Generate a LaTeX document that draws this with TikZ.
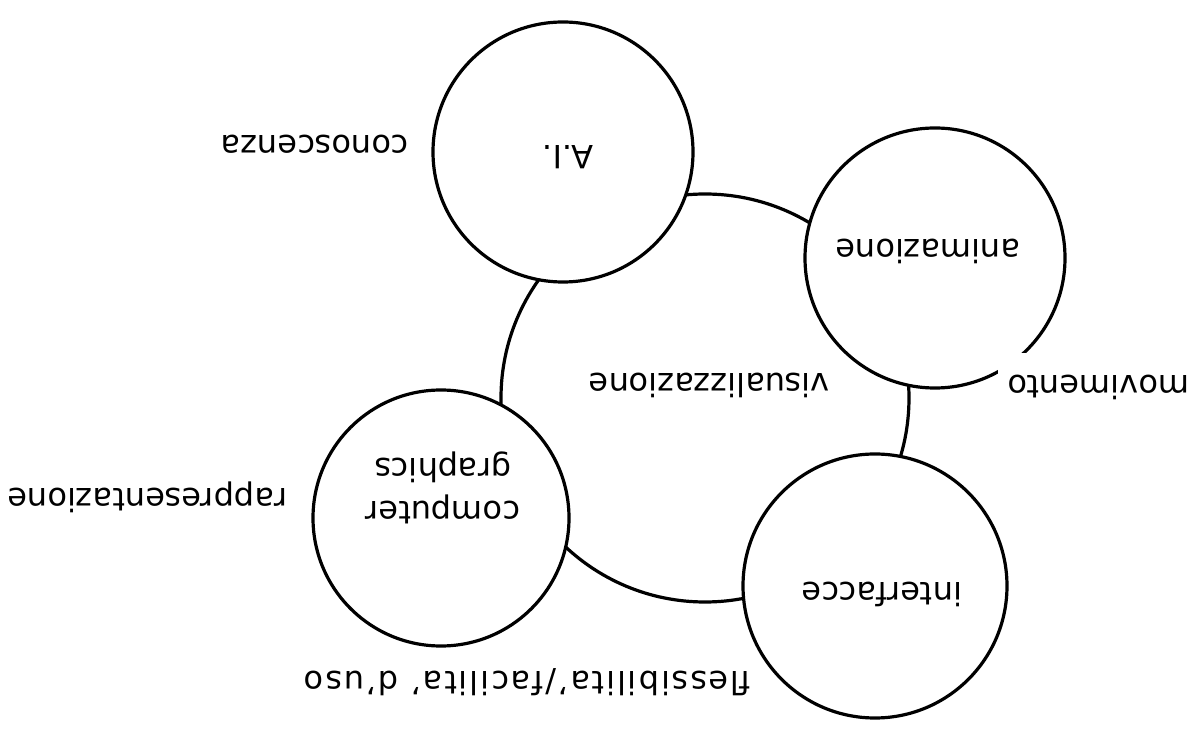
\documentclass[tikz,border=0pt]{standalone}
\usepackage{fontspec}
\setmainfont{DejaVu Sans}
\begin{document}
\begin{tikzpicture}[x=0.5pt,y=-0.5pt,
  bubble/.style={circle, draw, line width=1.6pt, fill=white, inner sep=0pt},
  lbl/.style={rotate=180, font=\fontsize{16}{21.5}\selectfont, text height=12pt, text depth=4pt, inner sep=2pt, align=center},
]
\useasboundingbox (0,0) rectangle (1200,731);
% central circle
\node[bubble, fill=none, minimum size=204pt] (vis) at (705,398) {};
\node[lbl] (vislbl) at (709.5,382) {visualizzazione};
% satellite circles
\node[bubble, minimum size=130pt] (ai) at (563,152) {};
\node[bubble, minimum size=130pt] (anim) at (935,258) {};
\node[bubble, minimum size=128pt] (cg) at (441,518) {};
\node[bubble, minimum size=132pt] (intf) at (875,586) {};
% texts inside circles
\node[lbl] (ailbl) at (568,154) {A.I.};
\node[lbl] (animlbl) at (928,247.5) {animazione};
\node[lbl] (intflbl) at (882,590.5) {interfacce};
\node[lbl, text height=, text depth=] (cglbl) at (443,488) {computer\\graphics};
% outer labels
\node[lbl] (cono) at (315,143.5) {conoscenza};
\node[lbl, fill=white, inner xsep=5pt, inner ysep=7.25pt] (movi) at (1098.5,383.5) {movimento};
\node[lbl] (rapp) at (147.5,496.5) {rappresentazione};
\node[lbl, font=\fontsize{16}{21.5}\selectfont\addfontfeature{LetterSpace=6}] (fless) at (527.5,679.5) {flessibilita'/facilita' d'uso};
\end{tikzpicture}
\end{document}
